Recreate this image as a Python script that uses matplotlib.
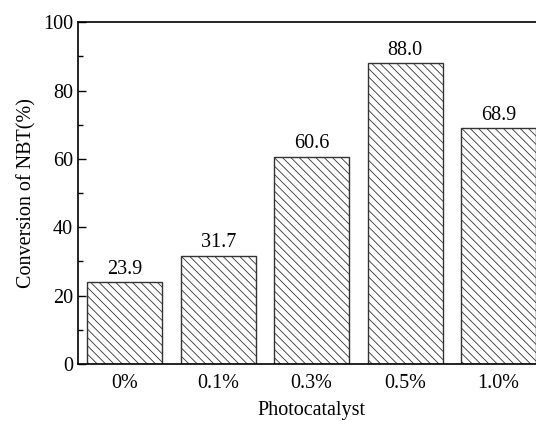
import numpy as np
import matplotlib
matplotlib.use('Agg')
import matplotlib.pyplot as plt
from matplotlib.ticker import MultipleLocator

catalyst = ['0%', '0.1%', '0.3%', '0.5%', '1.0%']
conversion = [23.9, 31.7, 60.6, 88.0, 68.9]

plt.rcParams['font.family'] = ['Liberation Serif', 'DejaVu Serif']
plt.rcParams['hatch.linewidth'] = 0.6

fig = plt.figure(figsize=(5.36, 4.21), dpi=100)
# right side of the frame is cut off in the reference, so the axes run past the edge
ax = fig.add_axes([0.1455, 0.1354, 0.872, 0.812])

x = np.arange(len(catalyst))
bars = ax.bar(x, conversion, width=0.8, color='white', edgecolor='#333333',
              linewidth=1.0, hatch='\\\\\\\\')
for xi, v in zip(x, conversion):
    ax.text(xi, v + 1.0, '%.1f' % v, ha='center', va='bottom', fontsize=14.5)

ax.set_xlim(-0.5, 4.5)
ax.set_ylim(0, 100)
ax.set_xticks(x)
ax.set_xticklabels(catalyst)
ax.yaxis.set_major_locator(MultipleLocator(20))
ax.yaxis.set_minor_locator(MultipleLocator(10))
ax.tick_params(axis='y', which='both', direction='in', labelsize=14.5, width=1.0)
ax.tick_params(axis='y', which='major', length=6)
ax.tick_params(axis='y', which='minor', length=3.5)
ax.tick_params(axis='x', length=0, labelsize=14.5, pad=7)
for s in ax.spines.values():
    s.set_linewidth(1.2)
ax.spines['right'].set_visible(False)

ax.set_ylabel('Conversion of NBT(%)', fontsize=14.5, labelpad=5)
ax.set_xlabel('Photocatalyst', fontsize=14.5, labelpad=6)

fig.savefig('out.png', dpi=100)
